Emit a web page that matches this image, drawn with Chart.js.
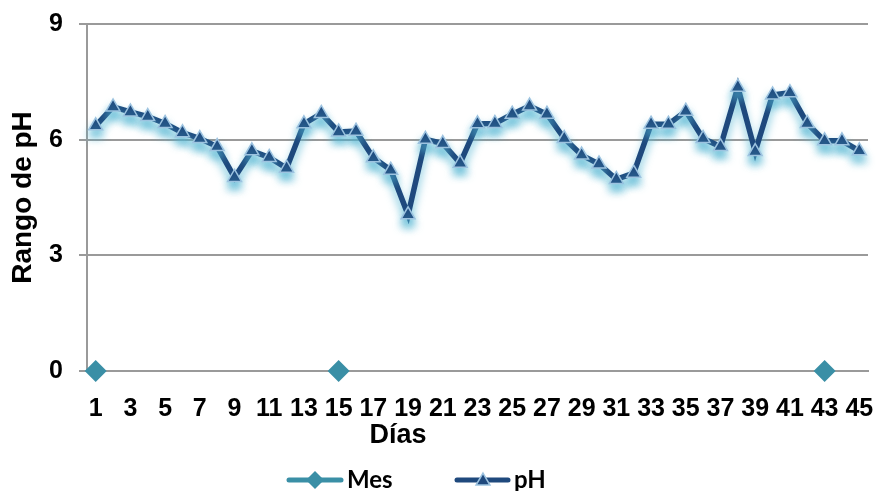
<!DOCTYPE html>
<html>
<head>
<meta charset="utf-8">
<script src="https://cdn.jsdelivr.net/npm/chart.js@4/dist/chart.umd.min.js"></script>
<style>
  html, body { margin: 0; padding: 0; background: #ffffff; }
  #wrap { width: 879px; height: 491px; }
</style>
</head>
<body>
<div id="wrap"><canvas id="c"></canvas></div>
<script>
// Días de muestreo
const dias = ['1','2','3','4','5','6','7','8','9','10','11','12','13','14','15',
  '16','17','18','19','20','21','22','23','24','25','26','27','28','29','30',
  '31','32','33','34','35','36','37','38','39','40','41','42','43','44','45'];

// pH medido cada día
const phValores = [6.36, 6.85, 6.72, 6.60, 6.42, 6.18, 6.03, 5.82, 5.02, 5.71,
  5.54, 5.26, 6.41, 6.68, 6.20, 6.22, 5.53, 5.21, 4.05, 6.01,
  5.90, 5.39, 6.41, 6.42, 6.66, 6.87, 6.66, 6.03, 5.60, 5.37,
  4.97, 5.13, 6.40, 6.40, 6.74, 6.03, 5.82, 7.36, 5.69, 7.16,
  7.22, 6.42, 5.97, 5.97, 5.71];

// Inicio de cada mes (marcado sobre el eje)
const mesValores = [0, null, null, null, null, null, null, null, null, null,
  null, null, null, null, 0, null, null, null, null, null,
  null, null, null, null, null, null, null, null, null, null,
  null, null, null, null, null, null, null, null, null, null,
  null, null, 0, null, null];

const yTicks = [0, 3, 6, 9];

const COLOR_PH = '#1F497D';
const COLOR_PH_BORDE = '#9DC3E0';
const COLOR_MES = '#3A8FA6';
const FONT_AXIS = '"Liberation Sans", Arial, sans-serif';
const FONT_LEGEND = 'Lato, "Liberation Sans", sans-serif';

// Resplandor celeste bajo la serie de pH
const glowPlugin = {
  id: 'glow',
  beforeDatasetDraw(chart, args) {
    if (chart.data.datasets[args.index].label !== 'pH') return;
    const ctx = chart.ctx;
    ctx.save();
    ctx.shadowColor = 'rgba(80,180,210,0.75)';
    ctx.shadowBlur = 9;
    ctx.shadowOffsetX = 0;
    ctx.shadowOffsetY = 7;
  },
  afterDatasetDraw(chart, args) {
    if (chart.data.datasets[args.index].label !== 'pH') return;
    chart.ctx.restore();
  }
};

function drawTriangle(ctx, x, y, r, fill, stroke) {
  ctx.beginPath();
  for (let k = 0; k < 3; k++) {
    const a = -Math.PI / 2 + k * 2 * Math.PI / 3;
    const px = x + Math.cos(a) * r, py = y + Math.sin(a) * r;
    if (k === 0) ctx.moveTo(px, py); else ctx.lineTo(px, py);
  }
  ctx.closePath();
  ctx.fillStyle = fill; ctx.fill();
  ctx.lineWidth = 1.5; ctx.strokeStyle = stroke; ctx.stroke();
}

function drawDiamond(ctx, x, y, r, fill) {
  ctx.beginPath();
  ctx.moveTo(x, y - r); ctx.lineTo(x + r, y); ctx.lineTo(x, y + r); ctx.lineTo(x - r, y);
  ctx.closePath();
  ctx.fillStyle = fill; ctx.fill();
}

// Título del eje X y leyenda inferior
const extrasPlugin = {
  id: 'extras',
  afterDraw(chart) {
    const ctx = chart.ctx;
    ctx.save();
    ctx.fillStyle = '#000';
    ctx.textBaseline = 'middle';
    ctx.textAlign = 'center';
    ctx.font = 'bold 27px ' + FONT_AXIS;
    ctx.fillText('Días', 398, 436);

    const ly = 480;
    ctx.lineCap = 'round';
    ctx.lineWidth = 5;
    // Mes
    ctx.strokeStyle = COLOR_MES;
    ctx.beginPath(); ctx.moveTo(289, ly); ctx.lineTo(341, ly); ctx.stroke();
    drawDiamond(ctx, 315, ly, 9, COLOR_MES);
    // pH
    ctx.strokeStyle = COLOR_PH;
    ctx.lineWidth = 5;
    ctx.beginPath(); ctx.moveTo(457, ly); ctx.lineTo(508, ly); ctx.stroke();
    drawTriangle(ctx, 483, ly + 1, 8, COLOR_PH, COLOR_PH_BORDE);

    ctx.fillStyle = '#000';
    ctx.textAlign = 'left';
    ctx.font = 'bold 24px ' + FONT_LEGEND;
    ctx.fillText(chart.data.datasets[0].label, 347, ly);
    ctx.fillText(chart.data.datasets[1].label, 514, ly);
    ctx.restore();
  }
};

new Chart(document.getElementById('c'), {
  type: 'line',
  data: {
    labels: dias,
    datasets: [
      {
        label: 'Mes',
        data: mesValores,
        borderColor: COLOR_MES,
        backgroundColor: COLOR_MES,
        pointStyle: 'rectRot',
        pointRadius: 11,
        pointBorderWidth: 0,
        pointBackgroundColor: COLOR_MES,
        spanGaps: false,
        borderWidth: 5,
        clip: false,
        order: 2
      },
      {
        label: 'pH',
        data: phValores,
        borderColor: COLOR_PH,
        backgroundColor: COLOR_PH,
        borderWidth: 5.5,
        tension: 0,
        pointStyle: 'triangle',
        pointRadius: 8,
        pointBorderWidth: 1.5,
        pointBackgroundColor: COLOR_PH,
        pointBorderColor: COLOR_PH_BORDE,
        clip: false,
        order: 1
      }
    ]
  },
  options: {
    responsive: true,
    maintainAspectRatio: false,
    animation: false,
    devicePixelRatio: 1,
    layout: { padding: { top: 24, right: 8, bottom: 0, left: 0 } },
    plugins: {
      legend: { display: false },
      tooltip: { enabled: false },
      title: { display: false }
    },
    scales: {
      x: {
        offset: true,
        grid: { display: false, drawTicks: false },
        border: { display: true, color: '#9a9a9a', width: 2 },
        ticks: {
          autoSkip: false,
          maxRotation: 0,
          minRotation: 0,
          padding: 23,
          color: '#000',
          font: { family: FONT_AXIS, size: 25, weight: 'bold' },
          callback: function (v, i) { return i % 2 === 0 ? dias[i] : ''; }
        },
        afterFit(scale) {
          scale.height = 120;
          scale.paddingLeft = 0;
          scale.paddingRight = 0;
        }
      },
      y: {
        min: 0,
        max: 9,
        afterBuildTicks(scale) { scale.ticks = yTicks.map(v => ({ value: v })); },
        grid: { color: '#9a9a9a', lineWidth: 2, tickLength: 8, drawTicks: true },
        border: { display: true, color: '#9a9a9a', width: 2 },
        ticks: {
          padding: 16,
          color: '#000',
          font: { family: FONT_AXIS, size: 25, weight: 'bold' }
        },
        title: {
          display: true,
          text: 'Rango de pH',
          color: '#000',
          font: { family: FONT_AXIS, size: 28, weight: 'bold' },
          padding: { top: 6, bottom: 0 }
        },
        afterFit(scale) {
          scale.width = 87;
          scale.paddingTop = 0;
          scale.paddingBottom = 0;
        }
      }
    }
  },
  plugins: [glowPlugin, extrasPlugin]
});
</script>
</body>
</html>
